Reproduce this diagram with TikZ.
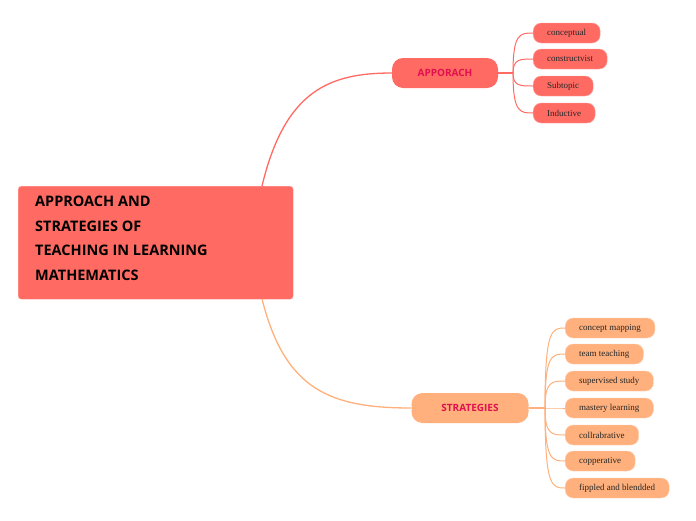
\documentclass[tikz,border=0pt]{standalone}
\usepackage{fontspec}
\setmainfont{Liberation Serif}
\newfontfamily\hdfont{Open Sans}
\definecolor{red1}{HTML}{FF6B63}
\definecolor{org1}{HTML}{FFB07C}
\definecolor{crim}{HTML}{E0104F}
\begin{document}
\begin{tikzpicture}[x=1pt,y=-1pt,
  leaf/.style={anchor=west,rounded corners=8pt,minimum height=20pt,inner xsep=14pt,inner ysep=0pt,font=\fontsize{9}{10}\selectfont,text=black!85},
  rleaf/.style={leaf,fill=red1,draw=red1!60!white},
  oleaf/.style={leaf,fill=org1,draw=org1!60!white},
  topic/.style={rounded corners=11pt,minimum height=30pt,font=\hdfont\bfseries\fontsize{10}{12}\selectfont,text=crim,anchor=center},
  rl/.style={draw=red1,line width=1.3pt},
  ol/.style={draw=org1,line width=1.3pt}]
\useasboundingbox (0,0) rectangle (696,520);
\node[fill=red1,draw=red1!50!white,rounded corners=3pt,minimum width=275pt,minimum height=113pt,anchor=north west,inner sep=0pt] (c) at (18,186) {};
\node[anchor=north west,align=left,font=\hdfont\bfseries\fontsize{14.5}{24.5}\selectfont,inner sep=0pt] (ct) at (35,196)
 {APPROACH AND\\STRATEGIES OF\\TEACHING IN LEARNING\\MATHEMATICS};
\node[topic,fill=red1,minimum width=106pt] (a) at (445,73) {APPORACH};
\node[topic,fill=org1,minimum width=117pt] (s) at (470,408) {STRATEGIES};
\coordinate (ctop) at (262,186);
\coordinate (cbot) at (262,299);
\draw[rl] (ctop) .. controls (285,90) and (330,73) .. (a.west);
\draw[ol] (cbot) .. controls (285,390) and (330,408) .. (s.west);
\coordinate (ab) at (513,73);
\coordinate (sb) at (545,408);
\draw[rl] (a.east) -- (ab);
\draw[ol] (s.east) -- (sb);
\foreach \n/\t/\y in {a1/conceptual/33,a2/constructvist/59,a3/Subtopic/86,a4/Inductive/113}{
  \node[rleaf] (\n) at (533,\y) {\t};
  \draw[rl,line width=1pt] (ab) .. controls (513,\y) and (520,\y) .. (\n.west);
}
\foreach \n/\t/\y in {s1/concept mapping/328,s2/team teaching/354,s3/supervised study/381,s4/mastery learning/408,s5/collrabrative/435,s6/copperative/461,s7/fippled and blendded/488}{
  \node[oleaf] (\n) at (565,\y) {\t};
  \draw[ol,line width=1pt] (sb) .. controls (545,\y) and (552,\y) .. (\n.west);
}
\end{tikzpicture}
\end{document}
